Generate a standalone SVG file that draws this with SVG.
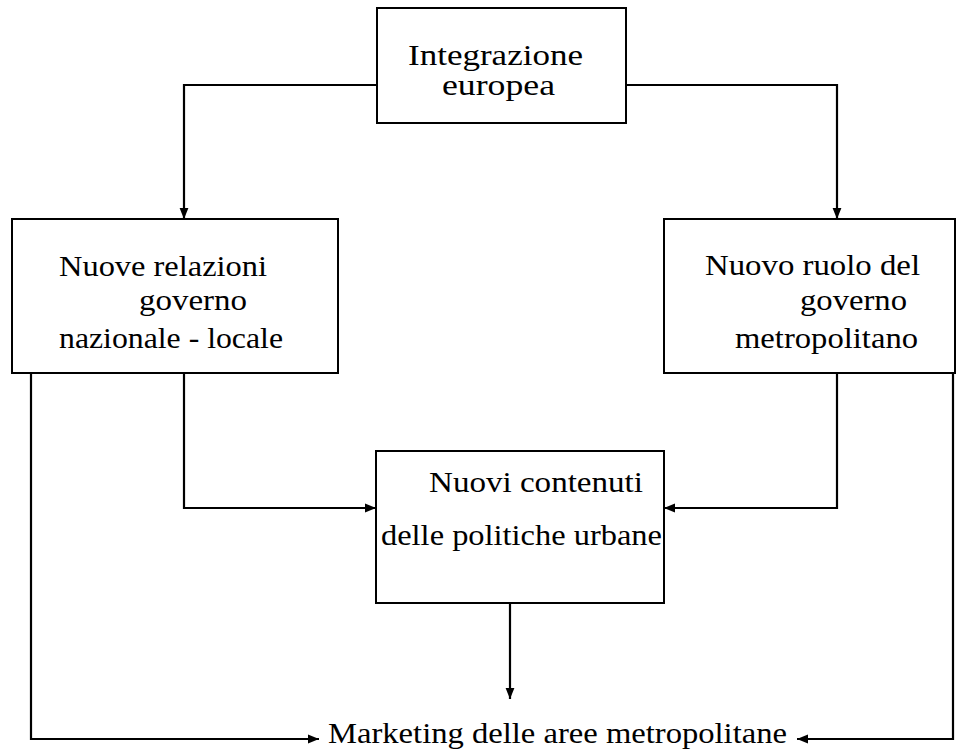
<svg xmlns="http://www.w3.org/2000/svg" width="958" height="749" viewBox="0 0 958 749">
<style>
.box{fill:#fff;stroke:#000;stroke-width:2}
.ln{fill:none;stroke:#000;stroke-width:2.2}
text{font-family:"Liberation Serif","Times New Roman",serif;font-size:30px;fill:#000}
</style>
<defs>
<marker id="ah" viewBox="0 0 10 10" refX="10" refY="5" markerWidth="11" markerHeight="11" markerUnits="userSpaceOnUse" orient="auto">
<path d="M0,1 L10,5 L0,9 Z" fill="#000"/>
</marker>
</defs>
<g id="connectors">
<path class="ln" d="M376,85 H184 V219" marker-end="url(#ah)"/>
<path class="ln" d="M626,85 H837 V219" marker-end="url(#ah)"/>
<path class="ln" d="M184,373 V508 H376" marker-end="url(#ah)"/>
<path class="ln" d="M837,373 V508 H664" marker-end="url(#ah)"/>
<path class="ln" d="M510,603 V699" marker-end="url(#ah)"/>
<path class="ln" d="M31,373 V739 H319" marker-end="url(#ah)"/>
<path class="ln" d="M953,373 V739 H797" marker-end="url(#ah)"/>
</g>
<g id="n1">
<rect class="box" x="377" y="8" width="249" height="115"/>
<text x="408" y="65" textLength="175" lengthAdjust="spacingAndGlyphs">Integrazione</text>
<text x="442" y="95" textLength="113" lengthAdjust="spacingAndGlyphs">europea</text>
</g>
<g id="n2">
<rect class="box" x="12" y="219" width="326" height="154"/>
<text x="59" y="276" textLength="208" lengthAdjust="spacingAndGlyphs">Nuove relazioni</text>
<text x="139" y="310" textLength="108" lengthAdjust="spacingAndGlyphs">governo</text>
<text x="59" y="348" textLength="224" lengthAdjust="spacingAndGlyphs">nazionale - locale</text>
</g>
<g id="n3">
<rect class="box" x="664" y="219" width="291" height="154"/>
<text x="705" y="275" textLength="215" lengthAdjust="spacingAndGlyphs">Nuovo ruolo del</text>
<text x="800" y="310" textLength="107" lengthAdjust="spacingAndGlyphs">governo</text>
<text x="735" y="348" textLength="183" lengthAdjust="spacingAndGlyphs">metropolitano</text>
</g>
<g id="n4">
<rect class="box" x="376" y="451" width="288" height="152"/>
<text x="429" y="492" textLength="214" lengthAdjust="spacingAndGlyphs">Nuovi contenuti</text>
<text x="381" y="545" textLength="281" lengthAdjust="spacingAndGlyphs">delle politiche urbane</text>
</g>
<g id="n5">
<text x="328" y="743" textLength="459" lengthAdjust="spacingAndGlyphs">Marketing delle aree metropolitane</text>
</g>
</svg>
